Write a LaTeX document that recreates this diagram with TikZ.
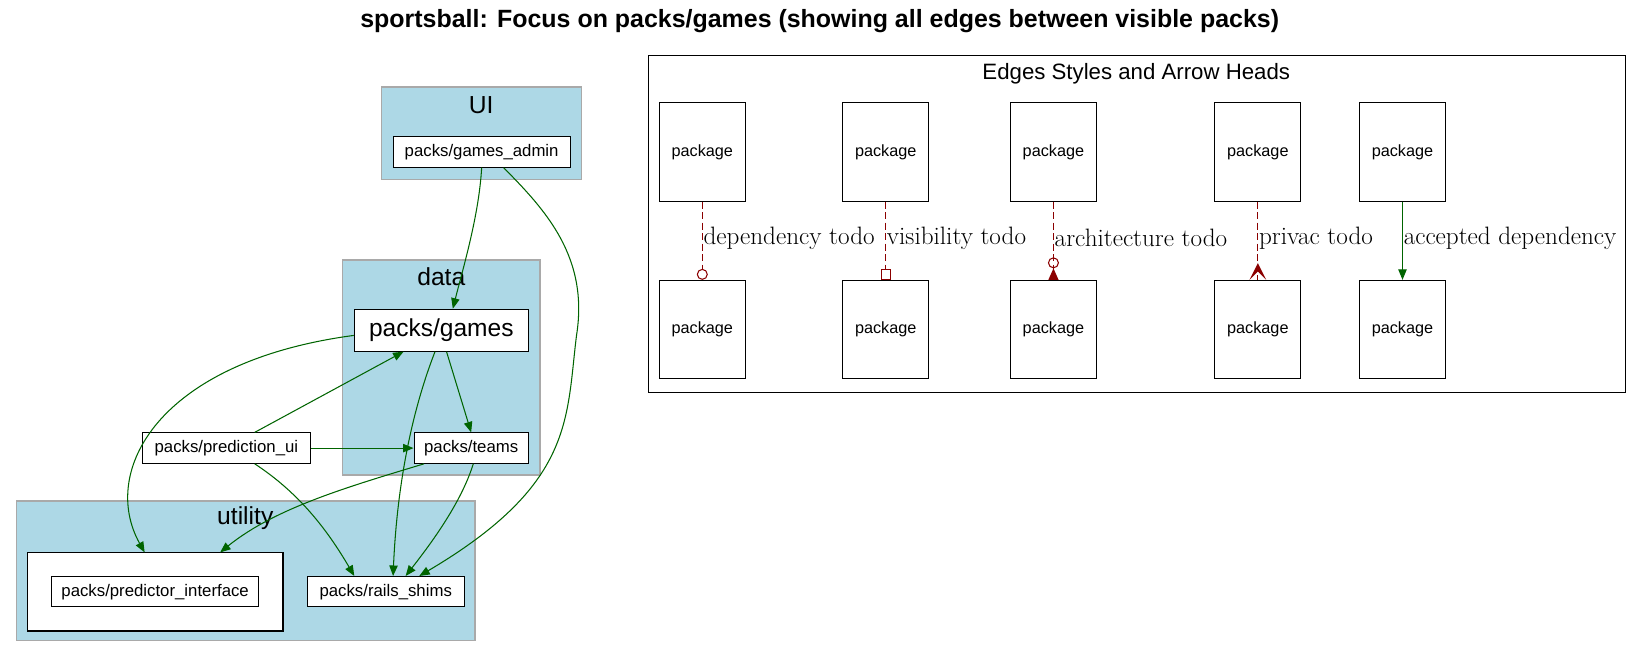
\documentclass[tikz,border=0pt]{standalone}
\usepackage{fontspec}
\setsansfont{Liberation Sans}
\usetikzlibrary{arrows.meta,calc}
\definecolor{clfill}{HTML}{ADD8E6}
\definecolor{clline}{HTML}{A9A9A9}
\definecolor{dgreen}{HTML}{006400}
\definecolor{dred}{HTML}{8B0000}
\begin{document}
\begin{tikzpicture}[x=1pt,y=-1pt,
  pkg/.style={draw=black, fill=white, line width=1pt, inner sep=0pt,
    font=\sffamily\fontsize{16}{19}\selectfont, minimum height=29pt},
  bigpkg/.style={pkg, font=\sffamily\fontsize{23.4}{27}\selectfont, minimum height=40pt},
  legbox/.style={draw=black, fill=white, line width=1pt, inner sep=0pt,
    font=\sffamily\fontsize{15.5}{18}\selectfont, minimum width=82pt, minimum height=94pt},
  cluster/.style={draw=clline, fill=clfill, line width=1.3pt},
  cllabel/.style={font=\sffamily\fontsize{23.5}{27}\selectfont, inner sep=0pt},
  dep/.style={draw=dgreen, line width=1pt, -{Triangle[length=10pt,width=8pt]}},
  legred/.style={draw=dred, line width=1pt, dash pattern=on 6.5pt off 3.5pt},
  leglabel/.style={font=\fontsize{24}{27}\selectfont, inner sep=1pt, anchor=west}
]
\useasboundingbox (0,0) rectangle (1568.4,627.7);

\node[font=\sffamily\bfseries\fontsize{23.8}{28}\selectfont] (title) at (782,20)
  {sportsball: Focus on packs/games (showing all edges between visible packs)};

% clusters
\draw[cluster] (364,83) rectangle (555,171);
\node[cllabel] (uilab) at (459,100) {UI};
\draw[cluster] (327,248) rectangle (515,453);
\node[cllabel] (datalab) at (421,264) {data};
\draw[cluster] (16,478) rectangle (453,611);
\node[cllabel] (utillab) at (234,494) {utility};
\draw[draw=black, fill=white, line width=1pt] (26,527) rectangle (270,602);
\coordinate (pibox) at (148,527);

% nodes
\node[pkg, minimum width=169pt] (ga) at (459.5,145) {packs/games\_admin};
\node[bigpkg, minimum width=166pt] (games) at (421,315) {packs/games};
\node[pkg, minimum width=109pt] (teams) at (449.5,427.5) {packs/teams};
\node[pkg, minimum width=160pt] (pui) at (216,427.5) {packs/prediction\_ui};
\node[pkg, minimum width=198pt] (pif) at (148,564.5) {packs/predictor\_interface};
\node[pkg, minimum width=150pt] (rails) at (368,564.5) {packs/rails\_shims};

% edges
\draw[dep] (ga.south) .. controls (457,205) and (442,255) .. ([xshift=11pt]games.north);
\draw[dep] ([xshift=21pt]ga.south) .. controls (520,200) and (562,245) .. (550,320)
  .. controls (540,400) and (548,462) .. ([xshift=32pt]rails.north);
\draw[dep] ([yshift=-5pt]games.west) .. controls (150,345) and (95,450) .. ([xshift=-10pt]pibox);
\draw[dep] ([xshift=27pt]pui.north) -- ([xshift=-36pt]games.south);
\draw[dep] (pui.east) -- (teams.west);
\draw[dep] ([xshift=27pt]pui.south) .. controls (285,470) and (312,505) .. ([xshift=-30pt]rails.north);
\draw[dep] ([xshift=5pt]games.south) -- (teams.north);
\draw[dep] ([xshift=-6pt]games.south) .. controls (388,405) and (378,480) .. ([xshift=7pt]rails.north);
\draw[dep] ([xshift=-45pt]teams.south) .. controls (330,465) and (262,485) .. ([xshift=62pt]pibox);
\draw[dep] ([xshift=2pt]teams.south) .. controls (440,480) and (410,520) .. ([xshift=19pt]rails.north);

% legend
\draw[draw=black, line width=1pt] (619,53) rectangle (1551,374);
\node[font=\sffamily\fontsize{21.2}{25}\selectfont, inner sep=0pt] (legtitle) at (1084,70) {Edges Styles and Arrow Heads};

\node[legbox] (a1) at (670,145) {package};
\node[legbox] (b1) at (670,314.5) {package};
\node[legbox] (a2) at (845,145) {package};
\node[legbox] (b2) at (845,314.5) {package};
\node[legbox] (a3) at (1005,145) {package};
\node[legbox] (b3) at (1005,314.5) {package};
\node[legbox] (a4) at (1200,145) {package};
\node[legbox] (b4) at (1200,314.5) {package};
\node[legbox] (a5) at (1338,145) {package};
\node[legbox] (b5) at (1338,314.5) {package};

\draw[legred, -{Circle[open,length=10.5pt,width=10.5pt]}] (a1.south) -- (b1.north);
\draw[legred, -{Square[open,length=10pt,width=10pt]}] (a2.south) -- (b2.north);
\draw[legred, -{Circle[open,length=10.5pt,width=10.5pt] Triangle[reversed,length=11pt,width=9.5pt]}] (a3.south) -- (b3.north);
\draw[legred] (a4.south) -- (b4.north);
\fill[dred] ($(b4.north)+(0,-16)$) -- ($(b4.north)+(-8,0)$) -- ($(b4.north)+(0,-8)$)
  -- ($(b4.north)+(8,0)$) -- cycle;
\draw[dep] (a5.south) -- (b5.north);

\node[leglabel] (l1) at (670,227) {dependency todo};
\node[leglabel] (l2) at (845,227) {visibility todo};
\node[leglabel] (l3) at (1005,227) {architecture todo};
\node[leglabel] (l4) at (1200,227) {privac todo};
\node[leglabel] (l5) at (1338,227) {accepted dependency};
\end{tikzpicture}
\end{document}
